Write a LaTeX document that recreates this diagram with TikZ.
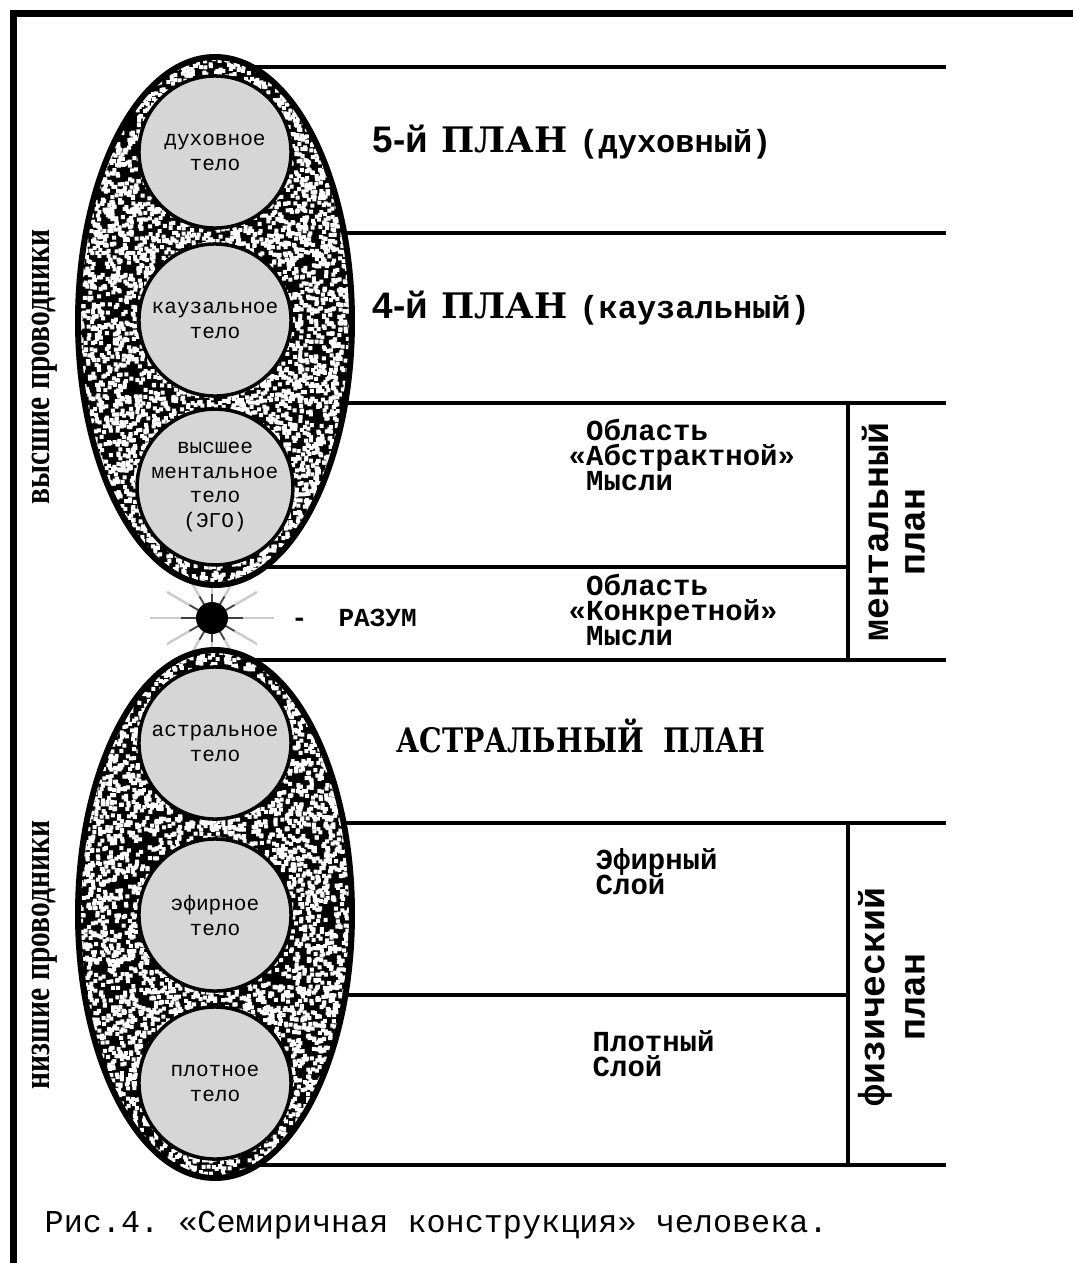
\documentclass[tikz,border=0pt]{standalone}
\usepackage{fontspec}
\usepackage{graphicx}
\setmainfont{Liberation Serif}
\setsansfont{Liberation Sans}
\setmonofont{Liberation Mono}
\newfontfamily\slabfont{DejaVu Serif}
\usetikzlibrary{positioning}
\definecolor{bodygray}{RGB}{214,214,214}
\newcommand\pxfont[2]{\fontsize{#1}{#2}\selectfont\lineskiplimit=-20pt\relax}
\tikzset{
  planline/.style={line width=1.15pt},
  thinline/.style={line width=0.9pt},
  bodycirc/.style={circle,draw,line width=1pt,fill=bodygray,minimum size=1.52cm,inner sep=0pt,
    align=center,font=\ttfamily\pxfont{6}{7.1}},
  regtxt/.style={anchor=north west,align=left,inner sep=0pt,font=\ttfamily\bfseries\pxfont{8.25}{7.1}},
  plantxt/.style={anchor=base west,inner sep=0pt,font=\slabfont\bfseries\pxfont{10}{12}},
  vtxt/.style={rotate=90,inner sep=0pt,font=\ttfamily\bfseries\pxfont{10.4}{12}},
  sidetxt/.style={rotate=90,inner sep=0pt,font=\rmfamily\bfseries\pxfont{10.5}{12}}
}
\begin{document}
\begin{tikzpicture}[x=0.01cm,y=-0.01cm]
\useasboundingbox[fill=white] (0,0) rectangle (1073,1263);
\fill (10,10) rectangle (1073,17);
\fill (10,10) rectangle (17,1263);
\foreach \y in {67,233,403,660,823,1165}
  \draw[planline] (215,\y) -- (946,\y);
\draw[thinline] (215,567) -- (848,567);
\draw[thinline] (215,995) -- (848,995);
\draw[thinline] (848,403) -- (848,660);
\draw[thinline] (848,823) -- (848,1165);
\foreach \a/\l in {0/62,180/62,90/48,270/48,30/52,150/52,210/52,330/52,60/50,120/50,240/50,300/50}{
  \draw[gray!40,line width=0.7pt] (212,618) -- +(\a:\l);
  \draw[black!75,line width=0.45pt] (212,618) -- +(\a:0.5*\l);
}
\fill (212,618) circle (16);
\pgfmathsetseed{4711}
\foreach \cy in {321,914}{
  \begin{scope}
    \clip (215,\cy) ellipse [x radius=137,y radius=264];
    \fill (76,\cy-266) rectangle (354,\cy+266);
    \foreach \c in {1,...,13}
      \fill[white] \foreach \k in {1,...,500}{ ({76+276*rnd},{\cy-266+530*rnd}) rectangle ++(4,4) };
  \end{scope}
  \draw[line width=1.7pt] (215,\cy) ellipse [x radius=137,y radius=264];
}
\node[bodycirc] (spirit) at (215,152) {духовное\\тело};
\node[bodycirc] (causal) at (215,320) {каузальное\\тело};
\node[bodycirc] (mental) at (215,487) {высшее\\ментальное\\тело\\(ЭГО)};
\node[bodycirc] (astral) at (215,743) {астральное\\тело};
\node[bodycirc] (ether) at (215,915) {эфирное\\тело};
\node[bodycirc] (dense) at (215,1083) {плотное\\тело};
\node[plantxt] (plan5) at (372,152) {{\sffamily\pxfont{10.5}{12}5-й}\hspace{0.13cm}ПЛАН\hspace{0.12cm}{\ttfamily\pxfont{9.1}{11}(духовный)}};
\node[plantxt] (plan4) at (372,318) {{\sffamily\pxfont{10.5}{12}4-й}\hspace{0.13cm}ПЛАН\hspace{0.12cm}{\ttfamily\pxfont{9.1}{11}(каузальный)}};
\node[plantxt,font=\slabfont\bfseries\pxfont{9.6}{12}] (astralplan) at (396,752) {\scalebox{0.84}[1]{АСТРАЛЬНЫЙ\ \ ПЛАН}};
\node[regtxt] (abstract) at (568,419) {\hphantom{«}Область\\«Абстрактной»\\\hphantom{«}Мысли};
\node[regtxt] (concrete) at (568,574) {\hphantom{«}Область\\«Конкретной»\\\hphantom{«}Мысли};
\node[regtxt] (etherlayer) at (595,848) {Эфирный\\Слой};
\node[regtxt] (denselayer) at (592,1030) {Плотный\\Слой};
\node[plantxt,font=\ttfamily\bfseries\pxfont{7.4}{9}] (mind) at (291,626) {-\ \ РАЗУМ};
\node[vtxt] (mentword) at (875,532) {ментальный};
\node[vtxt] (mentplan) at (915,532) {план};
\node[vtxt] (physword) at (875,997) {физический};
\node[vtxt] (physplan) at (915,997) {план};
\node[sidetxt] (higher) at (45,367) {\scalebox{0.8}[1]{высшие проводники}};
\node[sidetxt] (lower) at (45,955) {\scalebox{0.8}[1]{низшие проводники}};
\node[plantxt,font=\ttfamily\pxfont{9.05}{10}] (caption) at (44,1232) {Рис.4. «Семиричная конструкция» человека.};
\end{tikzpicture}
\end{document}
